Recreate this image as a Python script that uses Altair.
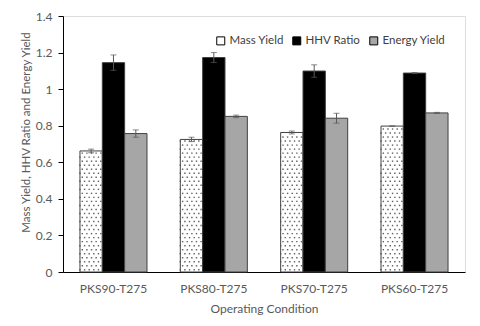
import altair as alt
import pandas as pd

conditions = ["PKS90-T275", "PKS80-T275", "PKS70-T275", "PKS60-T275"]
series = ["Mass Yield", "HHV Ratio", "Energy Yield"]
mass = [0.662, 0.725, 0.763, 0.798]
hhv = [1.145, 1.173, 1.099, 1.088]
energy = [0.757, 0.851, 0.841, 0.870]
mass_err = [0.010, 0.012, 0.008, 0.0]
hhv_err = [0.042, 0.027, 0.034, 0.003]
energy_err = [0.020, 0.007, 0.027, 0.003]
y_ticks = [0, 0.2, 0.4, 0.6, 0.8, 1.0, 1.2, 1.4]

rows = []
for i, c in enumerate(conditions):
    for s, v, e in zip(series, [mass[i], hhv[i], energy[i]], [mass_err[i], hhv_err[i], energy_err[i]]):
        rows.append({"cond": c, "series": s, "value": v, "lo": v - e, "hi": v + e})
df = pd.DataFrame(rows)

FONT = "Lato"
fills = ["#ffffff", "#000000", "#a6a6a6"]
YTITLE = "Mass Yield, HHV Ratio and Energy Yield"

x_axis = alt.Axis(labelAngle=0, ticks=False, domainColor="black",
                  labelColor="#595959", labelFont=FONT, labelFontSize=12,
                  labelPadding=11, titleFont=FONT, titleFontSize=12,
                  titleFontWeight="normal", titleColor="#595959", titlePadding=9)
x_scale = alt.Scale(paddingInner=0.332, paddingOuter=0.169)
y_axis = alt.Axis(values=y_ticks, format=".1~f", grid=False, domainColor="black",
                  tickColor="black", tickSize=5, labelColor="#595959",
                  labelOverlap=False, labelFont=FONT, labelFontSize=12, labelPadding=6,
                  titleFont=FONT, titleFontSize=11.5, titleFontWeight="normal",
                  titleColor="#595959", titlePadding=4, titleY=116)
y_scale = alt.Scale(domain=[0, 1.4], nice=False)


def X():
    return alt.X("cond:N", sort=conditions, title="Operating Condition", scale=x_scale, axis=x_axis)


def Y(field):
    return alt.Y(field, title=YTITLE, scale=y_scale, axis=y_axis)


xo = alt.XOffset("series:N", sort=series, scale=alt.Scale(domain=series, paddingInner=0, paddingOuter=0))

bars = alt.Chart(df).mark_bar(stroke="#404040", strokeWidth=1).encode(
    x=X(),
    xOffset=xo,
    y=Y("value:Q"),
    fill=alt.Fill("series:N", sort=series,
                  scale=alt.Scale(domain=series, range=fills),
                  legend=alt.Legend(title=None, orient="none", direction="horizontal",
                                    legendX=152, legendY=19, symbolType="square",
                                    symbolSize=64, symbolStrokeColor="black",
                                    symbolStrokeWidth=1, labelFont=FONT, labelFontSize=11.5,
                                    labelColor="#404040", columnPadding=6, labelOffset=3)),
)

# dotted texture for Mass Yield bars, derived from the mass values
dots = alt.Chart(df[df["series"] == "Mass Yield"]).transform_calculate(
    ys="sequence(0.012, datum.value - 0.004, 0.022)"
).transform_flatten(["ys"]).transform_calculate(
    r="round((datum.ys - 0.012) / 0.022)", cs="[0, 1, 2, 3, 4]"
).transform_flatten(["cs"]).transform_calculate(
    slot="2 * datum.cs + (datum.r % 2)"
).mark_square(size=2, color="#505050", opacity=0.9).encode(
    x=X(),
    xOffset=alt.XOffset("slot:O", scale=alt.Scale(domain=list(range(30)), paddingInner=0, paddingOuter=0)),
    y=Y("ys:Q"),
)

err = alt.Chart(df).mark_rule(color="#595959", strokeWidth=1).encode(
    x=X(), xOffset=xo, y=Y("lo:Q"), y2="hi:Q",
)
cap_lo = alt.Chart(df).mark_tick(color="#595959", thickness=1, size=6).encode(
    x=X(), xOffset=xo, y=Y("lo:Q"))
cap_hi = alt.Chart(df).mark_tick(color="#595959", thickness=1, size=6).encode(
    x=X(), xOffset=xo, y=Y("hi:Q"))

chart = alt.layer(bars, dots, err, cap_lo, cap_hi).resolve_scale(
    xOffset="independent"
).properties(
    width=402, height=256,
    autosize=alt.AutoSizeParams(type="none"),
    padding={"left": 55, "top": 8, "right": 7, "bottom": 46},
).configure_view(stroke="black", strokeWidth=1).configure(background="white")

chart.save("out.html", embed_options={"renderer": "svg", "actions": False})
